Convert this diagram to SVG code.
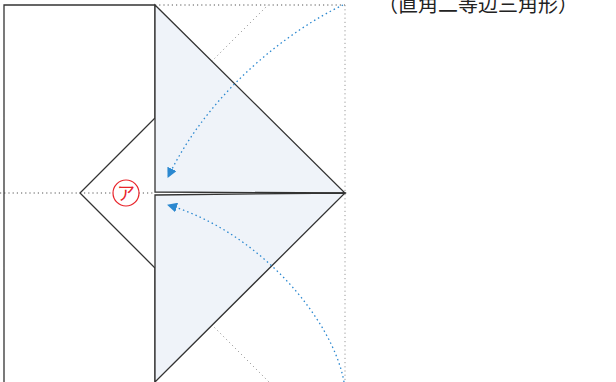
<svg xmlns="http://www.w3.org/2000/svg" width="616" height="382" viewBox="0 0 616 382">
<style>
.edge{fill:none;stroke:#333;stroke-width:1.3;stroke-linejoin:miter}
.tri{fill:#eff3f9;stroke:#333;stroke-width:1.3}
.dotd{fill:none;stroke:#555;stroke-width:1;stroke-dasharray:1.2 3}
.dotl{fill:none;stroke:#999;stroke-width:1;stroke-dasharray:1.2 3}
.blue{fill:none;stroke:#2b88d0;stroke-width:1.3;stroke-dasharray:1.5 3}
.cap{font-family:"Noto Sans CJK JP","Noto Sans",sans-serif;font-size:20px;fill:#222}
</style>
<defs>
<marker id="ah" viewBox="0 0 10 10" refX="9" refY="5" markerWidth="10" markerHeight="10" markerUnits="userSpaceOnUse" orient="auto">
<path d="M0,0 L10,5 L0,10 z" fill="#2b88d0"/>
</marker>
</defs>
<g id="guides">
<line class="dotd" x1="0" y1="193" x2="155" y2="193"/>
<line class="dotd" x1="155" y1="5" x2="345" y2="5"/>
<line class="dotl" x1="345" y1="5" x2="345" y2="382"/>
<line class="dotl" x1="155" y1="118" x2="268" y2="5"/>
<line class="dotl" x1="155" y1="268" x2="269" y2="382"/>
</g>
<g id="paper">
<path class="edge" d="M155,5 L4,5 L4,382 M155,5 L155,118 L80,193 L155,268 L155,382"/>
</g>
<g id="upper-triangle">
<polygon class="tri" points="155,5 345,193 155,192"/>
</g>
<g id="lower-triangle">
<polygon class="tri" points="155,195 345,193 155,382"/>
</g>
<g id="connectors">
<path class="blue" d="M343,5 C290,30 210,90 168,177" marker-end="url(#ah)"/>
<path class="blue" d="M344,382 C333,320 260,232 168,205" marker-end="url(#ah)"/>
</g>
<g id="label-a">
<circle cx="126" cy="193" r="13" fill="#fff" stroke="#e8232a" stroke-width="1.2"/>
<text x="126" y="200" text-anchor="middle" font-family="Noto Sans CJK JP, sans-serif" font-size="18" fill="#e8232a">ア</text>
</g>
<g id="caption">
<text class="cap" x="378" y="12">（直角二等辺三角形）</text>
</g>
</svg>
